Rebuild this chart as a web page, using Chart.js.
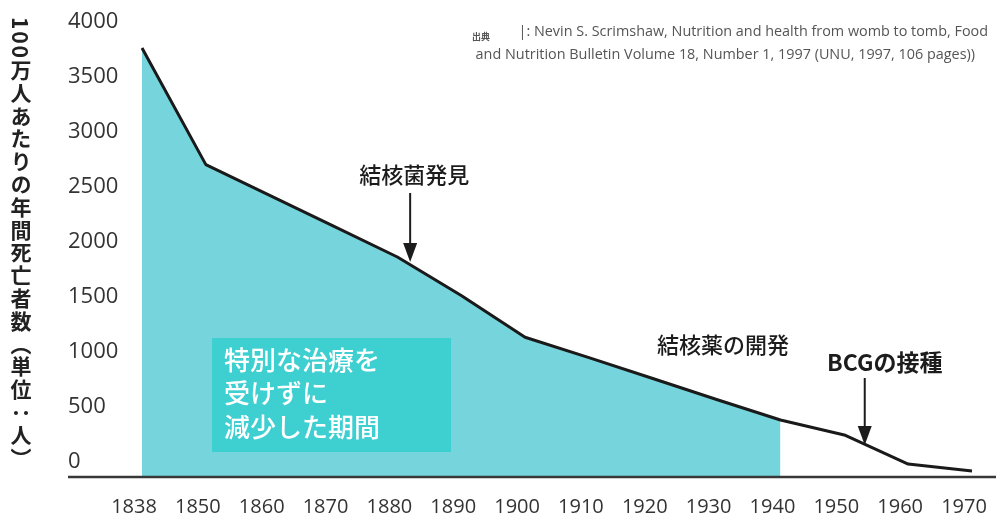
<!DOCTYPE html>
<html lang="ja">
<head>
<meta charset="utf-8">
<script src="https://cdn.jsdelivr.net/npm/chart.js@4.4.1/dist/chart.umd.min.js"></script>
<style>
  html, body { margin: 0; padding: 0; background: #fff; }
  #wrap { position: relative; width: 996px; height: 522px; }
  #ytitle {
    position: absolute; left: 10px; top: 17px;
    writing-mode: vertical-rl;
    font: bold 21px "Noto Sans CJK JP", sans-serif;
    color: #222; line-height: 1; letter-spacing: 1.8px;
  }
</style>
</head>
<body>
<div id="wrap">
  <canvas id="chart" width="996" height="522"></canvas>
  <div id="ytitle">100万人あたりの年間死亡者数（単位：人）</div>
</div>
<script>
const years = ["1838", "1850", "1860", "1870", "1880", "1890", "1900", "1910", "1920", "1930", "1940", "1950", "1960", "1970"];
const deaths = [3900, 2840, 2560, 2280, 2000, 1650, 1270, 1085, 895, 705, 518, 382, 118, 55];
// shaded period: no special treatment, up to 1940
const untreatedUntil = "1940";
const yTicks = [0, 500, 1000, 1500, 2000, 2500, 3000, 3500, 4000];

const sourceLines = [
    "|: Nevin S. Scrimshaw, Nutrition and health from womb to tomb, Food",
    "and Nutrition Bulletin Volume 18, Number 1, 1997 (UNU, 1997, 106 pages))"
];
const boxLines = ["特別な治療を", "受けずに", "減少した期間"];

// arrows: x as category index, tip as value on the y scale
const arrows = [
    { label: "結核菌発見", at: 4.2, tip: 1955, top: 193, textY: 175, dx: 4, size: 22, bold: false },
    { label: "BCGの接種", at: 11.32, tip: 290, top: 378, textY: 362, dx: 20, size: 23, bold: true }
];

const cutIdx = years.indexOf(untreatedUntil);
const shaded = deaths.map((v, i) => (i <= cutIdx ? v : null));

const annotate = {
    id: "annotate",
    afterDraw(chart) {
        const ctx = chart.ctx;
        const xs = chart.scales.x;
        const ys = chart.scales.y;
        ctx.save();

        // baseline
        const y0 = ys.getPixelForValue(0);
        ctx.strokeStyle = "#383838";
        ctx.lineWidth = 2.5;
        ctx.beginPath();
        ctx.moveTo(68, y0);
        ctx.lineTo(996, y0);
        ctx.stroke();

        // box
        ctx.fillStyle = "#3ecfd1";
        ctx.fillRect(212, 338, 239, 114);
        ctx.fillStyle = "#ffffff";
        ctx.font = "500 26px 'Noto Sans CJK JP'";
        ctx.textBaseline = "middle";
        ctx.textAlign = "left";
        boxLines.forEach((t, i) => ctx.fillText(t, 224, 360 + i * 33.5));

        // arrows and labels
        ctx.fillStyle = "#1c1c1c";
        ctx.strokeStyle = "#1c1c1c";
        ctx.textAlign = "center";
        arrows.forEach(a => {
            const x = xs.getPixelForValue(a.at);
            const tipY = ys.getPixelForValue(a.tip);
            ctx.lineWidth = 2;
            ctx.beginPath();
            ctx.moveTo(x, a.top);
            ctx.lineTo(x, tipY - 15);
            ctx.stroke();
            ctx.beginPath();
            ctx.moveTo(x - 7, tipY - 19);
            ctx.lineTo(x + 7, tipY - 19);
            ctx.lineTo(x, tipY);
            ctx.closePath();
            ctx.fill();
            ctx.font = (a.bold ? "bold " : "500 ") + a.size + "px 'Noto Sans CJK JP'";
            ctx.fillText(a.label, x + a.dx, a.textY);
        });
        ctx.font = "500 22px 'Noto Sans CJK JP'";
        ctx.fillText("結核薬の開発", 723, 345);

        // source
        ctx.fillStyle = "#555";
        ctx.font = "bold 9px 'Noto Sans CJK JP'";
        ctx.textAlign = "left";
        ctx.fillText("出典", 472, 37);
        ctx.font = "14.4px 'Open Sans'";
        ctx.textAlign = "right";
        ctx.fillText(sourceLines[0], 988, 32);
        ctx.fillText(sourceLines[1], 975, 55);
        ctx.restore();
    }
};

new Chart(document.getElementById("chart"), {
    type: "line",
    data: {
        labels: years,
        datasets: [
            {
                data: deaths,
                borderColor: "#1a1a1a",
                borderWidth: 3,
                pointRadius: 0,
                tension: 0,
                fill: false,
                borderJoinStyle: "round"
            },
            {
                data: shaded,
                borderWidth: 0,
                pointRadius: 0,
                tension: 0,
                backgroundColor: "#76d4dc",
                fill: "origin"
            }
        ]
    },
    options: {
        responsive: false,
        animation: false,
        layout: { autoPadding: false, padding: { left: 68, right: 24, top: 37, bottom: 0 } },
        plugins: { legend: { display: false }, tooltip: { enabled: false } },
        scales: {
            x: {
                offset: false,
                z: 1,
                border: { display: false },
                grid: { color: "rgba(255,255,255,0.22)", drawTicks: false },
                ticks: {
                    color: "#333",
                    font: { family: "Open Sans", size: 20 },
                    padding: 18,
                    labelOffset: -8,
                    maxRotation: 0,
                    autoSkip: false
                },
                afterFit: s => { s.height = 45; s.paddingLeft = 0; s.paddingRight = 0; }
            },
            y: {
                min: 0,
                max: 4000,
                border: { display: false },
                grid: { display: false },
                afterBuildTicks: s => { s.ticks = yTicks.map(v => ({ value: v })); },
                ticks: {
                    color: "#333",
                    font: { family: "Open Sans", size: 22 },
                    crossAlign: "far",
                    labelOffset: -15,
                    callback: v => String(v)
                },
                afterFit: s => { s.width = 74; }
            }
        }
    },
    plugins: [annotate]
});
</script>
</body>
</html>
